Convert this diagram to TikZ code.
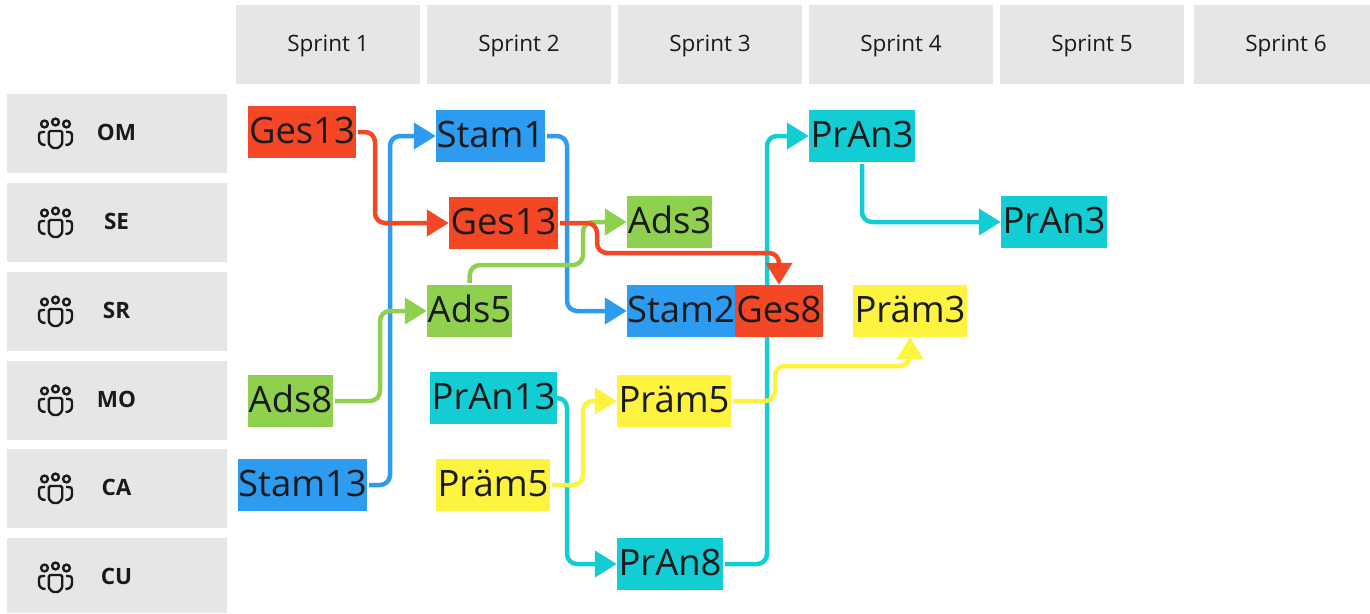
\documentclass[tikz,border=0pt]{standalone}
\usepackage{fontspec}
\setmainfont{Open Sans}
\usetikzlibrary{arrows.meta,backgrounds}
\definecolor{cellgrey}{HTML}{E6E6E6}
\definecolor{inkdark}{HTML}{1A1A1A}
\definecolor{gesred}{HTML}{F44725}
\definecolor{stamblue}{HTML}{2D9BF0}
\definecolor{adsgreen}{HTML}{8FD14F}
\definecolor{pranteal}{HTML}{12CDD4}
\definecolor{praemyellow}{HTML}{FEF33F}
\tikzset{
  headcell/.style={fill=cellgrey,text=inkdark,inner sep=0pt,text height=46pt,text depth=33pt,font=\fontsize{22.5}{26}\selectfont},
  rowcell/.style={fill=cellgrey,minimum width=220pt,inner sep=0pt},
  rowlabel/.style={text=inkdark,inner sep=0pt,font=\fontsize{22.5}{26}\selectfont\bfseries},
  task/.style={text=inkdark,inner sep=0pt,text height=37pt,text depth=15pt,font=\fontsize{36.4}{40}\selectfont},
  link/.style={line width=4.5pt,rounded corners=10pt,shorten <=2pt,-{Triangle[length=22pt,width=26pt]}},
  teamicon/.pic={
    \draw[inkdark,line width=2.4pt] (-11,-10) circle [radius=3.4];
    \draw[inkdark,line width=2.4pt] (0,-12) circle [radius=3.4];
    \draw[inkdark,line width=2.4pt] (11,-10) circle [radius=3.4];
    \draw[inkdark,line width=2.4pt,rounded corners=1.5pt] (-6.7,-3) -- (6.7,-3) -- (6.7,7) .. controls (6.7,11) and (3,14) .. (0,14) .. controls (-3,14) and (-6.7,11) .. (-6.7,7) -- cycle;
    \draw[inkdark,line width=2.4pt] (-10.5,-2) -- (-13,-2) .. controls (-15.5,-2) and (-16.5,-1) .. (-16.5,1) -- (-16.5,5) .. controls (-16.5,9) and (-14,11) .. (-10,11);
    \draw[inkdark,line width=2.4pt] (10.5,-2) -- (13,-2) .. controls (15.5,-2) and (16.5,-1) .. (16.5,1) -- (16.5,5) .. controls (16.5,9) and (14,11) .. (10,11);
  }
}
\begin{document}
\begin{tikzpicture}[x=1pt,y=-1pt]
    \useasboundingbox (0,0) rectangle (1370,613);
    % sprint header
    \node [headcell,minimum width=184pt] (sprintA) at (328,44.5) {Sprint 1};
    \node [headcell,minimum width=184pt] (sprintB) at (519,44.5) {Sprint 2};
    \node [headcell,minimum width=184pt] (sprintC) at (710,44.5) {Sprint 3};
    \node [headcell,minimum width=184pt] (sprintD) at (901,44.5) {Sprint 4};
    \node [headcell,minimum width=184pt] (sprintE) at (1092,44.5) {Sprint 5};
    \node [headcell,minimum width=176pt] (sprintF) at (1282,44.5) {\hspace*{8pt}Sprint 6};
    % teams
    \node [rowcell,minimum height=79pt] (rowOM) at (117,133.5) {};
    \node [rowcell,minimum height=79pt] (rowSE) at (117,222.5) {};
    \node [rowcell,minimum height=79pt] (rowSR) at (117,311.5) {};
    \node [rowcell,minimum height=79pt] (rowMO) at (117,400.5) {};
    \node [rowcell,minimum height=79pt] (rowCA) at (117,488.5) {};
    \node [rowcell,minimum height=75pt] (rowCU) at (117,575.5) {};
    \node [rowlabel] (labelOM) at (116.5,132.5) {OM};
    \node [rowlabel] (labelSE) at (116.5,221.5) {SE};
    \node [rowlabel] (labelSR) at (116.5,310.5) {SR};
    \node [rowlabel] (labelMO) at (116.5,399.5) {MO};
    \node [rowlabel] (labelCA) at (116.5,487.5) {CA};
    \node [rowlabel] (labelCU) at (116.5,576.5) {CU};
    \pic at (55.5,134) {teamicon};
    \pic at (55.5,223) {teamicon};
    \pic at (55.5,312) {teamicon};
    \pic at (55.5,401) {teamicon};
    \pic at (55.5,489) {teamicon};
    \pic at (55.5,578) {teamicon};
    % tasks
    \node [task,fill=gesred,minimum width=108pt] (gesOM) at (302,132) {Ges13};
    \node [task,fill=stamblue,minimum width=109pt] (stamOM) at (490.5,136) {Stam1};
    \node [task,fill=gesred,minimum width=109pt] (gesSE) at (503.5,223) {Ges13};
    \node [task,fill=adsgreen,minimum width=85pt] (adsSE) at (669.5,222) {Ads3};
    \node [task,fill=stamblue,minimum width=108pt] (stamSR) at (681,311) {Stam2};
    \node [task,fill=gesred,minimum width=88pt] (gesSR) at (779,311) {Ges8};
    \node [task,fill=adsgreen,minimum width=85pt] (adsSR) at (469.5,311) {Ads5};
    \node [task,fill=praemyellow,minimum width=114pt] (praemSR) at (910,311) {Präm3};
    \node [task,fill=pranteal,minimum width=106pt] (pranOM) at (862,136) {PrAn3};
    \node [task,fill=pranteal,minimum width=106pt] (pranSE) at (1054,222) {PrAn3};
    \node [task,fill=adsgreen,minimum width=85pt] (adsMO) at (290.5,401) {Ads8};
    \node [task,fill=stamblue,minimum width=129pt] (stamCA) at (302.5,485) {Stam13};
    \node [task,fill=pranteal,minimum width=127pt] (pranMO) at (493.5,398) {PrAn13};
    \node [task,fill=praemyellow,minimum width=114pt] (praemCA) at (493,485) {Präm5};
    \node [task,fill=praemyellow,minimum width=114pt] (praemMO) at (674,401) {Präm5};
    \node [task,fill=pranteal,minimum width=106pt] (pranCU) at (670,564) {PrAn8};
    % links stay behind the tasks
    \begin{scope}[on background layer]
    \draw [link,stamblue] (stamCA.east) -- (390,485) -- (390,136) -- (stamOM.west);
    \draw [link,stamblue] (stamOM.east) -- (567,136) -- (567,311) -- (stamSR.west);
    \draw [link,pranteal] (pranMO.east) -- (567,398) -- (567,564) -- (pranCU.west);
    \draw [link,pranteal] (pranCU.east) -- (767,564) -- (767,136) -- (pranOM.west);
    \draw [link,pranteal] (pranOM.south) -- (862,222) -- (pranSE.west);
    \draw [link,adsgreen] (adsMO.east) -- (380,401) -- (380,311) -- (adsSR.west);
    \draw [link,adsgreen] (adsSR.north) -- (470,265) -- (583,265) -- (583,222) -- (adsSE.west);
    \draw [link,praemyellow] (praemCA.east) -- (583,485) -- (583,401) -- (praemMO.west);
    \draw [link,praemyellow] (praemMO.east) -- (775,401) -- (775,366) -- (910,366) -- (praemSR.south);
    \draw [link,gesred] (gesOM.east) -- (375,132) -- (375,223) -- (gesSE.west);
    \draw [link,gesred] (gesSE.east) -- (597,223) -- (597,253) -- (779,253) -- (gesSR.north);
    \end{scope}
\end{tikzpicture}
\end{document}
